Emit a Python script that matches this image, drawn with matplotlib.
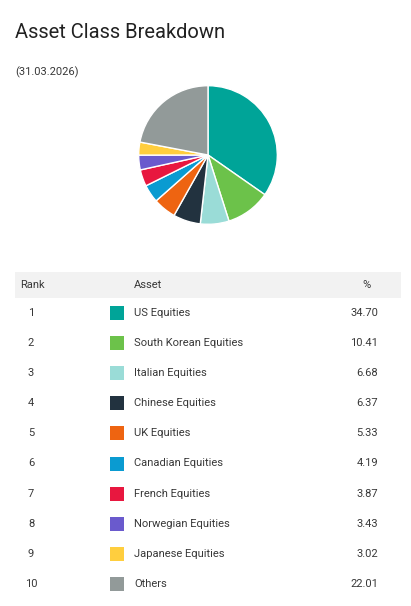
import matplotlib
matplotlib.use("Agg")
import matplotlib.pyplot as plt
from matplotlib.patches import Rectangle

plt.rcParams['font.family'] = ['Roboto', 'DejaVu Sans']

ranks = [1, 2, 3, 4, 5, 6, 7, 8, 9, 10]
assets = ["US Equities", "South Korean Equities", "Italian Equities", "Chinese Equities",
          "UK Equities", "Canadian Equities", "French Equities", "Norwegian Equities",
          "Japanese Equities", "Others"]
weights = [34.70, 10.41, 6.68, 6.37, 5.33, 4.19, 3.87, 3.43, 3.02, 22.01]
colors = ["#00A498", "#6CC24A", "#9ADCD7", "#22323F", "#EE6411", "#0A9BD1",
          "#E8173F", "#6A5ACD", "#FFCE3E", "#929A99"]

W, H = 411, 606
fig = plt.figure(figsize=(W / 100, H / 100), dpi=100)

# full-figure axes in pixel coords for texts and table
bg = fig.add_axes([0, 0, 1, 1])
bg.set_xlim(0, W)
bg.set_ylim(H, 0)
bg.axis('off')

txt = "#383838"
bg.text(15, 33, "Asset Class Breakdown", fontsize=14.5, color="#222222", va='center', ha='left')
bg.text(15, 72, "(31.03.2026)", fontsize=8, color=txt, va='center', ha='left')

# pie
cx, cy, r = 208, 155, 70
pax = fig.add_axes([(cx - r) / W, (H - cy - r) / H, 2 * r / W, 2 * r / H])
pax.pie(weights, colors=colors, startangle=90, counterclock=False,
        wedgeprops=dict(edgecolor='white', linewidth=1))
pax.set_xlim(-1.01, 1.01)
pax.set_ylim(-1.01, 1.01)
pax.set_aspect('equal')

# table header
bg.add_patch(Rectangle((15, 272), 386, 26, facecolor="#F2F2F2", edgecolor='none'))
bg.text(20, 285, "Rank", fontsize=8, color=txt, va='center', ha='left')
bg.text(134, 285, "Asset", fontsize=8, color=txt, va='center', ha='left')
bg.text(366, 285, "%", fontsize=8, color=txt, va='center', ha='center')

row0, step = 313, 30.1
for i, (rk, name, w, c) in enumerate(zip(ranks, assets, weights, colors)):
    y = row0 + i * step
    bg.text(31, y, str(rk), fontsize=8, color=txt, va='center', ha='center')
    bg.add_patch(Rectangle((110, y - 7), 14, 14, facecolor=c, edgecolor='none'))
    bg.text(134, y, name, fontsize=8, color=txt, va='center', ha='left')
    bg.text(378, y, f"{w:.2f}", fontsize=8, color=txt, va='center', ha='right')

fig.savefig("out.png", dpi=100, facecolor='white')
